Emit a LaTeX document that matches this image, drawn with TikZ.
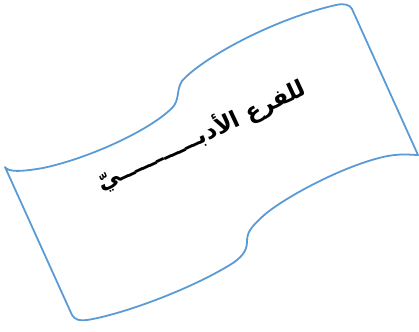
\documentclass[tikz,border=0pt]{standalone}
\usepackage{fontspec}
\newfontfamily\arabicfont[Script=Arabic]{DejaVu Sans}
\TeXXeTstate=1
\definecolor{wave}{HTML}{5B9BD5}
\begin{document}
\begin{tikzpicture}[x=1pt,y=-1pt, waveline/.style={draw=wave,line width=1.8pt,line join=round}]
\useasboundingbox (0,0) rectangle (419,331);
\path[waveline] (5,167) .. controls (8,172) and (20,172) .. (43,168)
 .. controls (90,158) and (150,130) .. (172,108)
 .. controls (180,100) and (176,90) .. (182,81)
 .. controls (200,60) and (270,20) .. (336,5)
 .. controls (345,3) and (350,5) .. (352,9)
 -- (418,155)
 .. controls (412,155) and (400,153) .. (383,157)
 .. controls (340,167) and (280,200) .. (262,217)
 .. controls (250,228) and (247,233) .. (247,242)
 .. controls (247,252) and (240,258) .. (233,263)
 .. controls (190,290) and (120,315) .. (87,320)
 .. controls (80,321) and (75,320) .. (72,315)
 -- cycle;
\node[rotate=25, font=\arabicfont\bfseries\fontsize{23}{26}\selectfont] (t) at (201,135) {\beginR للفرع الأدبـــــــــــيّ\endR};
\end{tikzpicture}
\end{document}
